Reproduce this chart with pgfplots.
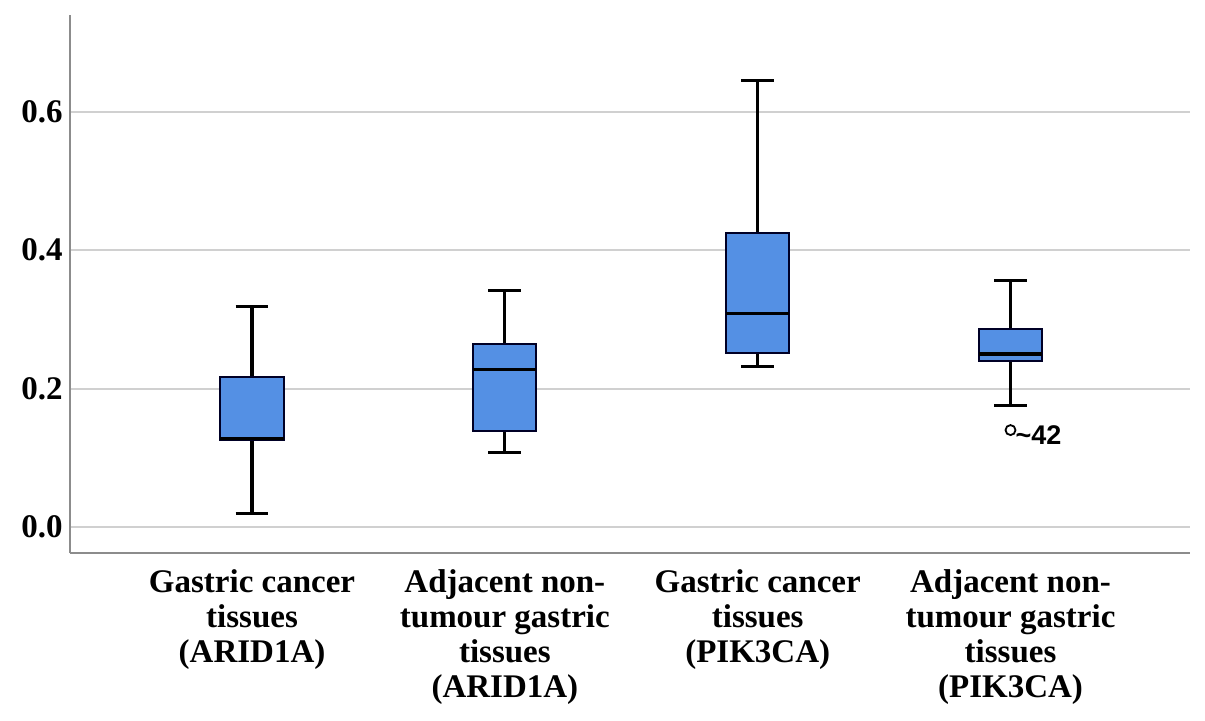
\documentclass[border=0pt]{standalone}
\usepackage{pgfplots}
\pgfplotsset{compat=1.18}
\usepgfplotslibrary{statistics}
\usepackage{fontspec}
\setmainfont{Liberation Serif}
\newfontfamily\labelfont{Liberation Sans}
\definecolor{boxblue}{RGB}{84,144,228}
\definecolor{spine}{RGB}{140,140,140}
\definecolor{gridc}{RGB}{208,208,208}

\begin{document}
\begin{tikzpicture}
\begin{axis}[
  name=ax,
  width=560pt, height=269pt, scale only axis,
  xmin=0.28, xmax=4.71,
  ymin=-0.0375, ymax=0.7394,
  axis x line*=bottom, axis y line*=left,
  axis line style={-, draw=spine, line width=1.4pt},
  major tick length=0pt,
  xtick={1,2,3,4},
  xticklabels={
    {Gastric cancer\\tissues\\(ARID1A)},
    {Adjacent non-\\tumour gastric\\tissues\\(ARID1A)},
    {Gastric cancer\\tissues\\(PIK3CA)},
    {Adjacent non-\\tumour gastric\\tissues\\(PIK3CA)}},
  ytick={0,0.2,0.4,0.6},
  /pgf/number format/assume math mode=true,
  yticklabel style={/pgf/number format/fixed, /pgf/number format/fixed zerofill,
    /pgf/number format/precision=1},
  ticklabel style={font=\bfseries\fontsize{16.5}{17.5}\selectfont},
  yticklabel style={inner sep=0pt, anchor=east, xshift=-3.5pt},
  xticklabel style={align=center, inner sep=0pt, anchor=north, yshift=-8pt},
  ymajorgrids, grid style={gridc, line width=1pt},
  clip=false,
  boxplot/draw direction=y,
  boxplot/every box/.style={draw=black!85!blue, fill=boxblue, line width=1pt},
  boxplot/every whisker/.style={black, line width=1.6pt},
  boxplot/every median/.style={black, line width=1.6pt},
]
\addplot[boxplot prepared={draw position=1, lower whisker=0.019, lower quartile=0.125,
  median=0.128, upper quartile=0.216, upper whisker=0.319,
  box extend=0.25, whisker extend=0.13}] coordinates {};
\addplot[boxplot prepared={draw position=2, lower whisker=0.108, lower quartile=0.138,
  median=0.228, upper quartile=0.264, upper whisker=0.342,
  box extend=0.25, whisker extend=0.13}] coordinates {};
\addplot[boxplot prepared={draw position=3, lower whisker=0.232, lower quartile=0.252,
  median=0.308, upper quartile=0.425, upper whisker=0.645,
  box extend=0.25, whisker extend=0.13}] coordinates {};
\addplot[mark=o, mark size=2.5pt, mark options={black, line width=0.9pt, fill=white},
  boxplot prepared={draw position=4, lower whisker=0.175, lower quartile=0.240,
  median=0.250, upper quartile=0.286, upper whisker=0.356,
  box extend=0.25, whisker extend=0.13}]
  table[row sep=\\, y index=0] {data\\ 0.140\\};
\node[anchor=west, inner sep=0pt, xshift=2.3pt, yshift=-2.5pt,
  font=\labelfont\bfseries\fontsize{13.5}{14}\selectfont] at (axis cs:4,0.140) {\textasciitilde42};
\end{axis}
\path (ax.south west) ++(-35pt,-83.5pt);
\path (ax.north east) ++(7.5pt,7.5pt);
\end{tikzpicture}
\end{document}
